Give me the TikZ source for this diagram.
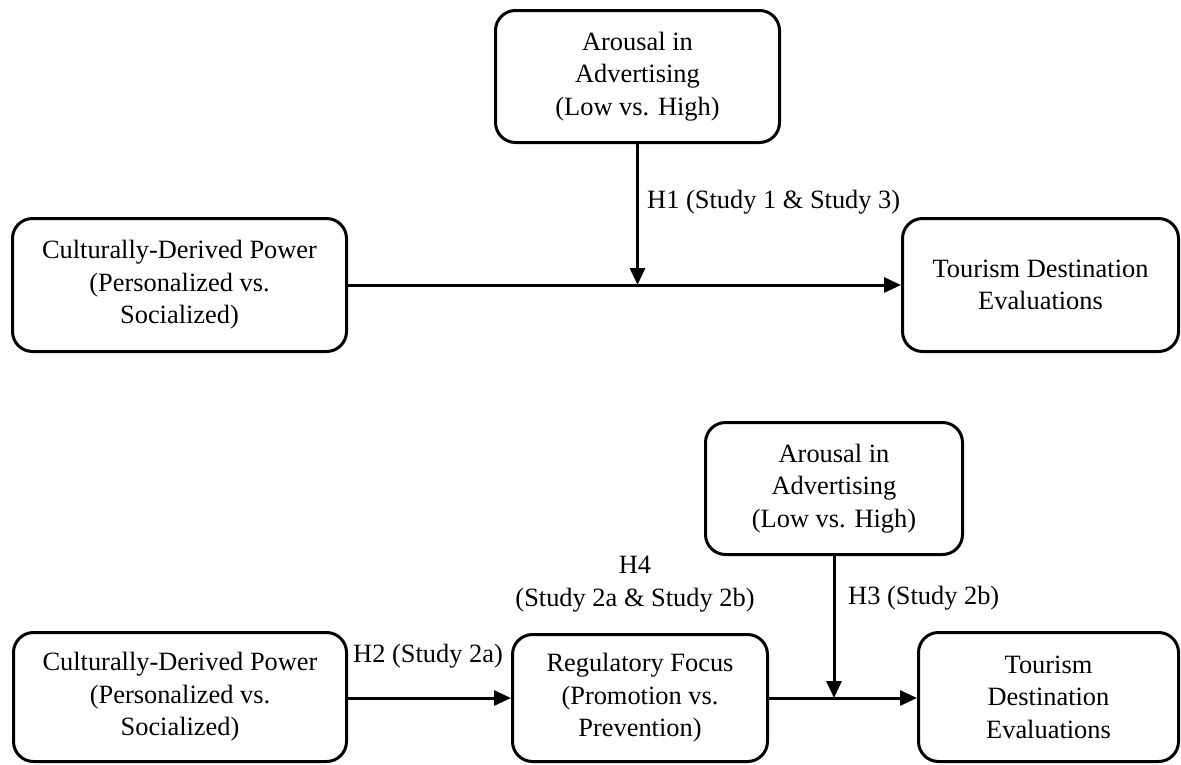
\documentclass[tikz,border=0pt]{standalone}
\usepackage{fontspec}
\setmainfont{Liberation Serif}
\usetikzlibrary{arrows.meta}
\begin{document}
\begin{tikzpicture}[x=1pt,y=-1pt,
  box/.style={draw, line width=3pt, rounded corners=20pt, align=center, inner sep=0pt,
    font=\fontsize{26.4}{32.5}\selectfont},
  arr/.style={line width=3pt, -{Triangle[length=17pt,width=15pt]}},
  lbl/.style={inner sep=0pt, align=center, font=\fontsize{26.4}{32.5}\selectfont}]
\useasboundingbox (0,0) rectangle (1181,764);
% top model
\node[box, minimum width=284pt, minimum height=132pt] (a1) at (637.5,76.5) {Arousal in\\Advertising\\(Low vs. High)};
\node[box, minimum width=334pt, minimum height=133pt] (c1) at (179.5,285) {Culturally-Derived Power\\(Personalized vs.\\Socialized)};
\node[box, minimum width=276pt, minimum height=133pt] (t1) at (1040.5,285) {Tourism Destination\\Evaluations};
\coordinate (m1) at (a1.south |- c1.east);
\draw[arr] (c1.east) -- (t1.west);
\draw[arr] (a1.south) -- (m1);
\node[lbl, anchor=west] (h1) at (647,202) {H1 (Study 1 \& Study 3)};
% bottom model
\node[box, minimum width=257pt, minimum height=132pt] (a2) at (834,488.5) {Arousal in\\Advertising\\(Low vs. High)};
\node[box, minimum width=333pt, minimum height=129pt] (c2) at (180,697) {Culturally-Derived Power\\(Personalized vs.\\Socialized)};
\node[box, minimum width=255pt, minimum height=127pt] (r2) at (640,698) {Regulatory Focus\\(Promotion vs.\\Prevention)};
\node[box, minimum width=260pt, minimum height=129pt] (t2) at (1048.5,697) {Tourism\\Destination\\Evaluations};
\draw[arr] (c2.east) -- (r2.west -| c2.east) -- (r2.west);
\coordinate (m2) at (a2.south |- r2.east);
\draw[arr] (r2.east) -- (t2.west |- r2.east);
\draw[arr] (a2.south) -- (m2);
\node[lbl] (h2) at (428,656) {H2 (Study 2a)};
\node[lbl] (h4) at (635,584) {H4\\(Study 2a \& Study 2b)};
\node[lbl, anchor=west] (h3) at (848,598) {H3 (Study 2b)};
\end{tikzpicture}
\end{document}
